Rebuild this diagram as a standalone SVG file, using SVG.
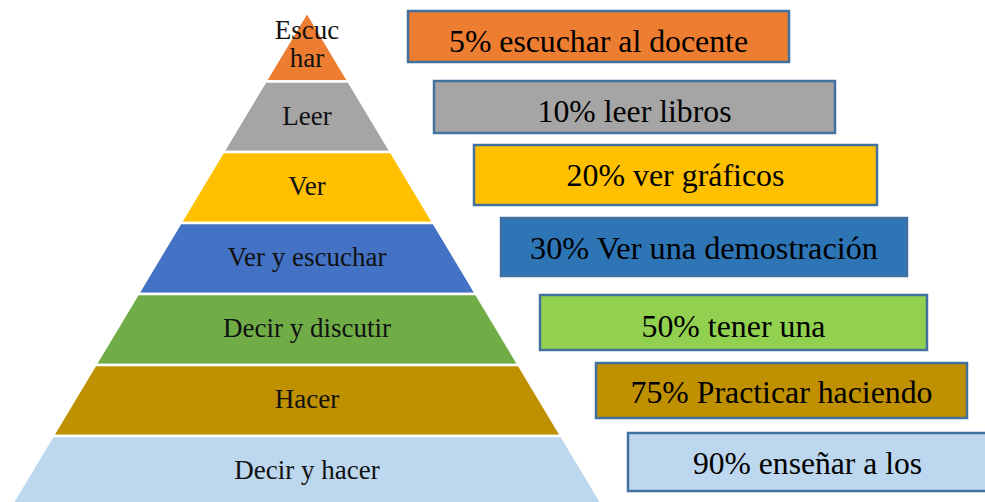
<svg xmlns="http://www.w3.org/2000/svg" width="985" height="502" viewBox="0 0 985 502">
<style>
.lay{stroke:#fff;stroke-width:2.5}
.pl{font-size:27px;fill:#111;text-anchor:middle}
.box{stroke:#41719C;stroke-width:2.5}
.bt{font-size:32px;fill:#000;text-anchor:middle}
</style>
<rect width="985" height="502" fill="#fff"/>
<g id="pyramid" font-family="'Liberation Serif', serif">
<g id="layer1"><polygon class="lay" fill="#ED7D31" points="307,12 348.7,81.5 265.3,81.5"/><text class="pl" x="307" y="39">Escuc</text><text class="pl" x="307" y="67">har</text></g>
<g id="layer2"><polygon class="lay" fill="#A5A5A5" points="265.3,81.5 348.7,81.5 391,152 223,152"/><text class="pl" x="307" y="125">Leer</text></g>
<g id="layer3"><polygon class="lay" fill="#FFC000" points="223,152 391,152 433.6,223 180.4,223"/><text class="pl" x="307" y="195">Ver</text></g>
<g id="layer4"><polygon class="lay" fill="#4472C4" points="180.4,223 433.6,223 476.2,294 137.8,294"/><text class="pl" x="307" y="266">Ver y escuchar</text></g>
<g id="layer5"><polygon class="lay" fill="#70AD47" points="137.8,294 476.2,294 518.8,365 95.2,365"/><text class="pl" x="307" y="337">Decir y discutir</text></g>
<g id="layer6"><polygon class="lay" fill="#BF9000" points="95.2,365 518.8,365 561.4,436 52.6,436"/><text class="pl" x="307" y="408">Hacer</text></g>
<g id="layer7"><polygon class="lay" fill="#BDD7EE" points="52.6,436 561.4,436 604,507 10,507"/><text class="pl" x="307" y="479">Decir y hacer</text></g>
</g>
<g id="boxes" font-family="'Liberation Serif', serif">
<g id="box1"><rect class="box" fill="#ED7D31" x="408" y="11" width="381" height="51"/><text class="bt" x="598.5" y="52" textLength="299" lengthAdjust="spacingAndGlyphs">5% escuchar al docente</text></g>
<g id="box2"><rect class="box" fill="#A5A5A5" x="434" y="81" width="401" height="52"/><text class="bt" x="634.5" y="122" textLength="194" lengthAdjust="spacingAndGlyphs">10% leer libros</text></g>
<g id="box3"><rect class="box" fill="#FFC000" x="474" y="145" width="403" height="60"/><text class="bt" x="675.5" y="186" textLength="218" lengthAdjust="spacingAndGlyphs">20% ver gráficos</text></g>
<g id="box4"><rect class="box" fill="#2E75B6" x="501" y="218" width="406" height="58"/><text class="bt" x="704" y="259" textLength="348" lengthAdjust="spacingAndGlyphs">30% Ver una demostración</text></g>
<g id="box5"><rect class="box" fill="#92D050" x="540" y="295" width="387" height="55"/><text class="bt" x="733.5" y="337" textLength="184" lengthAdjust="spacingAndGlyphs">50% tener una</text></g>
<g id="box6"><rect class="box" fill="#BF9000" x="596" y="363" width="371" height="55"/><text class="bt" x="781.5" y="403" textLength="302" lengthAdjust="spacingAndGlyphs">75% Practicar haciendo</text></g>
<g id="box7"><rect class="box" fill="#BDD7EE" x="628" y="433" width="362" height="58"/><text class="bt" x="807.5" y="474" textLength="229" lengthAdjust="spacingAndGlyphs">90% enseñar a los</text></g>
</g>
</svg>
